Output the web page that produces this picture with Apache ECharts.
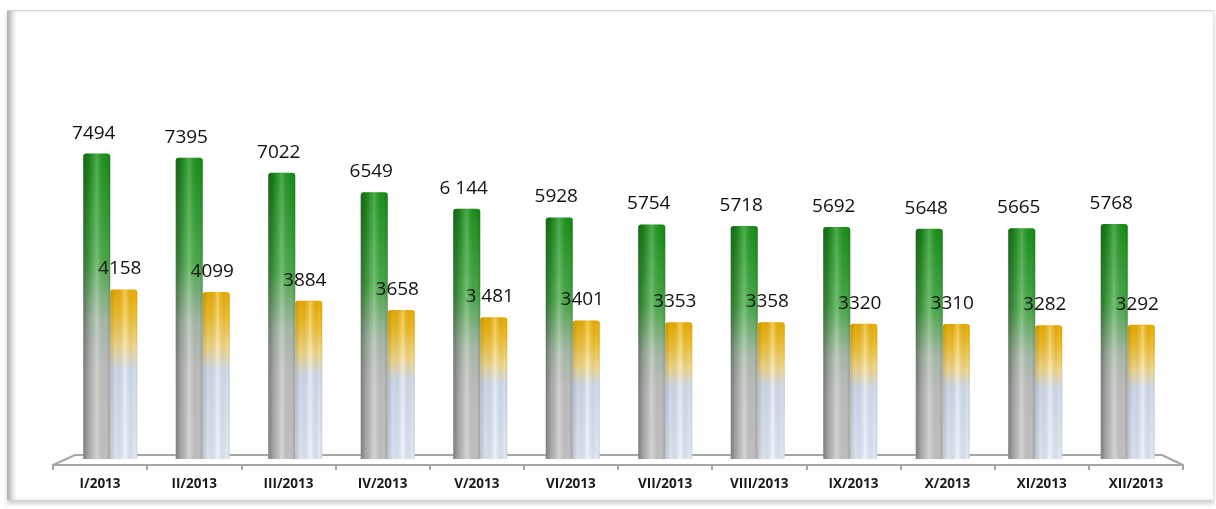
<!DOCTYPE html>
<html>
<head>
<meta charset="utf-8">
<script src="https://cdn.jsdelivr.net/npm/echarts@6/dist/echarts.min.js"></script>
<style>
  html, body { margin: 0; padding: 0; background: #fff; }
  .wrap { position: relative; width: 1216px; height: 509px; overflow: hidden; }
  .frame {
    position: absolute; left: 7px; top: 10px; width: 1206px; height: 489px;
    border-top: 1px solid #d4d4d4; border-right: 1px solid #e4e4e4;
    box-shadow: inset 7px 0 6px -3px rgba(0,0,0,0.35), 0 4px 4px rgba(0,0,0,0.18);
  }
  #chart { position: absolute; left: 0; top: 0; width: 1216px; height: 509px; }
</style>
</head>
<body>
<div class="wrap">
  <div class="frame"></div>
  <div id="chart"></div>
</div>
<script>
const months = ['I/2013', 'II/2013', 'III/2013', 'IV/2013', 'V/2013', 'VI/2013',
  'VII/2013', 'VIII/2013', 'IX/2013', 'X/2013', 'XI/2013', 'XII/2013']
const greenValues = [7494, 7395, 7022, 6549, 6144, 5928, 5754, 5718, 5692, 5648, 5665, 5768]
const yellowValues = [4158, 4099, 3884, 3658, 3481, 3401, 3353, 3358, 3320, 3310, 3282, 3292]
// texts as printed on the picture (some have a thousands space)
const greenLabels = ['7494', '7395', '7022', '6549', '6 144', '5928', '5754', '5718', '5692', '5648', '5665', '5768']
const yellowLabels = ['4158', '4099', '3884', '3658', '3 481', '3401', '3353', '3358', '3320', '3310', '3282', '3292']

const chart = echarts.init(document.getElementById('chart'))
const font = "'Open Sans', 'Liberation Sans', sans-serif"

const lin = (x, y, x2, y2, stops) => new echarts.graphic.LinearGradient(x, y, x2, y2,
  stops.map(s => ({ offset: s[0], color: s[1] })))

const greenFill = lin(0.75, 0, 0.35, 1, [
  [0, '#1a961a'], [0.35, '#4cb04c'], [0.55, '#adc0ad'], [0.7, '#c4c4c4'], [1, '#c8c8c8']
])
const yellowFill = lin(0, 0, 0, 1, [
  [0, '#f3b300'], [0.15, '#f8c62c'], [0.33, '#fbe08e'], [0.47, '#d9e4f4'], [1, '#e9f1ff']
])
const shade = lin(0, 0, 1, 0, [
  [0, 'rgba(40,40,40,0.45)'], [0.18, 'rgba(0,0,0,0.18)'], [0.5, 'rgba(255,255,255,0.22)'],
  [0.85, 'rgba(0,0,0,0.04)'], [1, 'rgba(0,0,0,0.18)']
])
const shadeLight = lin(0, 0, 1, 0, [
  [0, 'rgba(40,40,40,0.22)'], [0.2, 'rgba(0,0,0,0.06)'], [0.55, 'rgba(255,255,255,0.3)'],
  [0.9, 'rgba(0,0,0,0.03)'], [1, 'rgba(0,0,0,0.12)']
])

const valueLabel = (texts, offsetX) => ({
  show: true,
  position: 'top',
  distance: 11,
  offset: [offsetX, 0],
  color: '#111',
  fontFamily: font,
  fontSize: 19,
  formatter: p => texts[p.dataIndex]
})

chart.setOption({
  animation: false,
  backgroundColor: 'transparent',
  grid: [
    { left: 64, right: 42, top: 133, bottom: 50 },
    { left: 53, right: 33, top: 133, bottom: 44 }
  ],
  xAxis: [
    { type: 'category', gridIndex: 0, data: months, show: false },
    { type: 'category', gridIndex: 0, data: months, show: false },
    {
      type: 'category',
      gridIndex: 1,
      data: months,
      axisLine: { show: true, lineStyle: { color: '#a6a6a6', width: 2 } },
      axisTick: { show: true, length: 5, lineStyle: { color: '#a6a6a6', width: 2 } },
      axisLabel: {
        color: '#1a1a1a',
        fontFamily: font,
        fontWeight: 'bold',
        fontSize: 13.5,
        margin: 12
      }
    }
  ],
  yAxis: [
    { type: 'value', gridIndex: 0, min: 0, max: 8000, show: false },
    { type: 'value', gridIndex: 1, min: 0, max: 1, show: false }
  ],
  graphic: [
    {
      type: 'polyline',
      z: 0,
      shape: { points: [[53, 465], [75, 455], [1162, 455], [1183, 465]] },
      style: { stroke: '#a6a6a6', lineWidth: 2, fill: null }
    }
  ],
  series: [
    {
      type: 'bar',
      xAxisIndex: 0,
      yAxisIndex: 0,
      data: greenValues,
      barWidth: 27,
      barGap: '0%',
      itemStyle: { color: greenFill, borderRadius: [3, 3, 0, 0] },
      label: valueLabel(greenLabels, -3),
      z: 2
    },
    {
      type: 'bar',
      xAxisIndex: 0,
      yAxisIndex: 0,
      data: yellowValues,
      barWidth: 27,
      barGap: '0%',
      itemStyle: { color: yellowFill, borderRadius: [3, 3, 0, 0] },
      label: valueLabel(yellowLabels, -4),
      z: 2
    },
    {
      type: 'bar',
      xAxisIndex: 1,
      yAxisIndex: 0,
      data: greenValues,
      barWidth: 27,
      barGap: '0%',
      silent: true,
      itemStyle: { color: shade, borderRadius: [3, 3, 0, 0] },
      z: 3
    },
    {
      type: 'bar',
      xAxisIndex: 1,
      yAxisIndex: 0,
      data: yellowValues,
      barWidth: 27,
      barGap: '0%',
      silent: true,
      itemStyle: { color: shadeLight, borderRadius: [3, 3, 0, 0] },
      z: 3
    }
  ]
})
</script>
</body>
</html>
